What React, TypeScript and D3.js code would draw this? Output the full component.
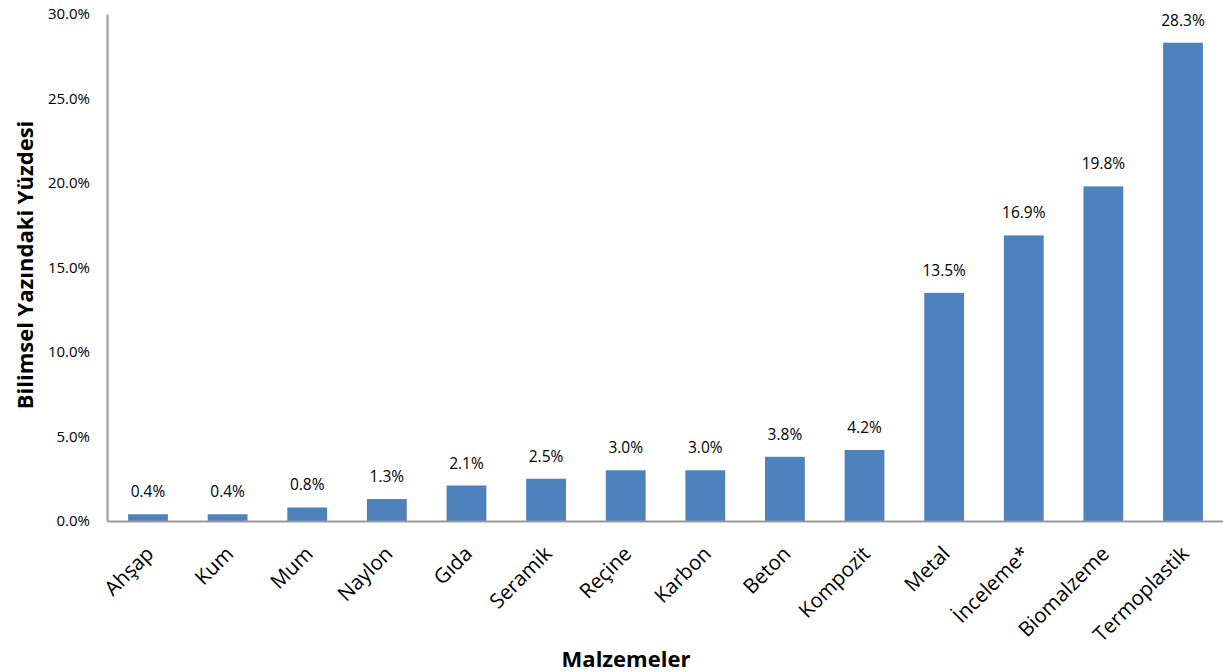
import { useEffect, useRef } from "react";
import * as d3 from "d3";

const categories = [
  "Ahşap", "Kum", "Mum", "Naylon", "Gıda", "Seramik", "Reçine",
  "Karbon", "Beton", "Kompozit", "Metal", "İnceleme*", "Biomalzeme", "Termoplastik",
];
const values = [0.4, 0.4, 0.8, 1.3, 2.1, 2.5, 3.0, 3.0, 3.8, 4.2, 13.5, 16.9, 19.8, 28.3];
const yTicks = [0, 5, 10, 15, 20, 25, 30];

const FONT = "'Open Sans', 'Noto Sans', sans-serif";

export default function App() {
  const svgRef = useRef<SVGSVGElement>(null);

  useEffect(() => {
    if (!svgRef.current) return;
    const root = d3.select(svgRef.current);
    root.selectAll("*").remove();

    const H = 672;
    const margin = { top: 14, right: 0, bottom: 151, left: 107 };
    const width = 1117;
    const height = H - margin.top - margin.bottom;

    const svg = root.append("g").attr("transform", `translate(${margin.left},${margin.top})`);

    const x = d3.scaleBand().domain(categories).range([0, width]).paddingInner(0.5).paddingOuter(0.265);
    const y = d3.scaleLinear().domain([0, 30]).range([height, 0]);

    // bars
    svg.selectAll("rect.bar")
      .data(values)
      .enter()
      .append("rect")
      .attr("class", "bar")
      .attr("x", (_, i) => x(categories[i])!)
      .attr("width", x.bandwidth())
      .attr("y", d => y(d))
      .attr("height", d => height - y(d))
      .attr("fill", "#4F81BD");

    // value labels
    svg.selectAll("text.val")
      .data(values)
      .enter()
      .append("text")
      .attr("class", "val")
      .attr("x", (_, i) => x(categories[i])! + x.bandwidth() / 2)
      .attr("y", d => y(d) - 17)
      .attr("text-anchor", "middle")
      .style("font-family", FONT)
      .style("font-size", "15.5px")
      .attr("fill", "#000")
      .text(d => `${d.toFixed(1)}%`);

    // y axis
    const yAxis = svg.append("g")
      .call(d3.axisLeft(y).tickValues(yTicks).tickSize(0).tickPadding(17).tickFormat(d => `${(+d).toFixed(1)}%`));
    yAxis.select(".domain").attr("stroke", "#999").attr("stroke-width", 2);
    yAxis.selectAll(".tick text").style("font-family", FONT).style("font-size", "15px").attr("fill", "#000");

    // x axis
    const xAxis = svg.append("g")
      .attr("transform", `translate(0,${height})`)
      .call(d3.axisBottom(x).tickSize(0).tickSizeOuter(0));
    xAxis.select(".domain").attr("stroke", "#999").attr("stroke-width", 2);
    xAxis.selectAll<SVGTextElement, string>(".tick text")
      .attr("text-anchor", "end")
      .attr("x", 0)
      .attr("y", 0)
      .attr("dy", "0")
      .attr("transform", "translate(7,34) rotate(-45)")
      .style("font-family", FONT)
      .style("font-size", "20.5px")
      .attr("fill", "#000");

    // axis titles
    root.append("text")
      .attr("x", 626)
      .attr("y", 667)
      .attr("text-anchor", "middle")
      .style("font-family", FONT)
      .style("font-size", "22px")
      .style("font-weight", "bold")
      .text("Malzemeler");

    root.append("text")
      .attr("transform", `translate(33,265) rotate(-90)`)
      .attr("text-anchor", "middle")
      .style("font-family", FONT)
      .style("font-size", "22px")
      .style("font-weight", "bold")
      .text("Bilimsel Yazındaki Yüzdesi");
  }, []);

  return (
    <div style={{ position: "absolute", left: 0, top: 0, width: 1223, height: 672, background: "#fff", overflow: "hidden" }}>
      <svg ref={svgRef} width={1223} height={672} style={{ display: "block" }}></svg>
    </div>
  );
}
